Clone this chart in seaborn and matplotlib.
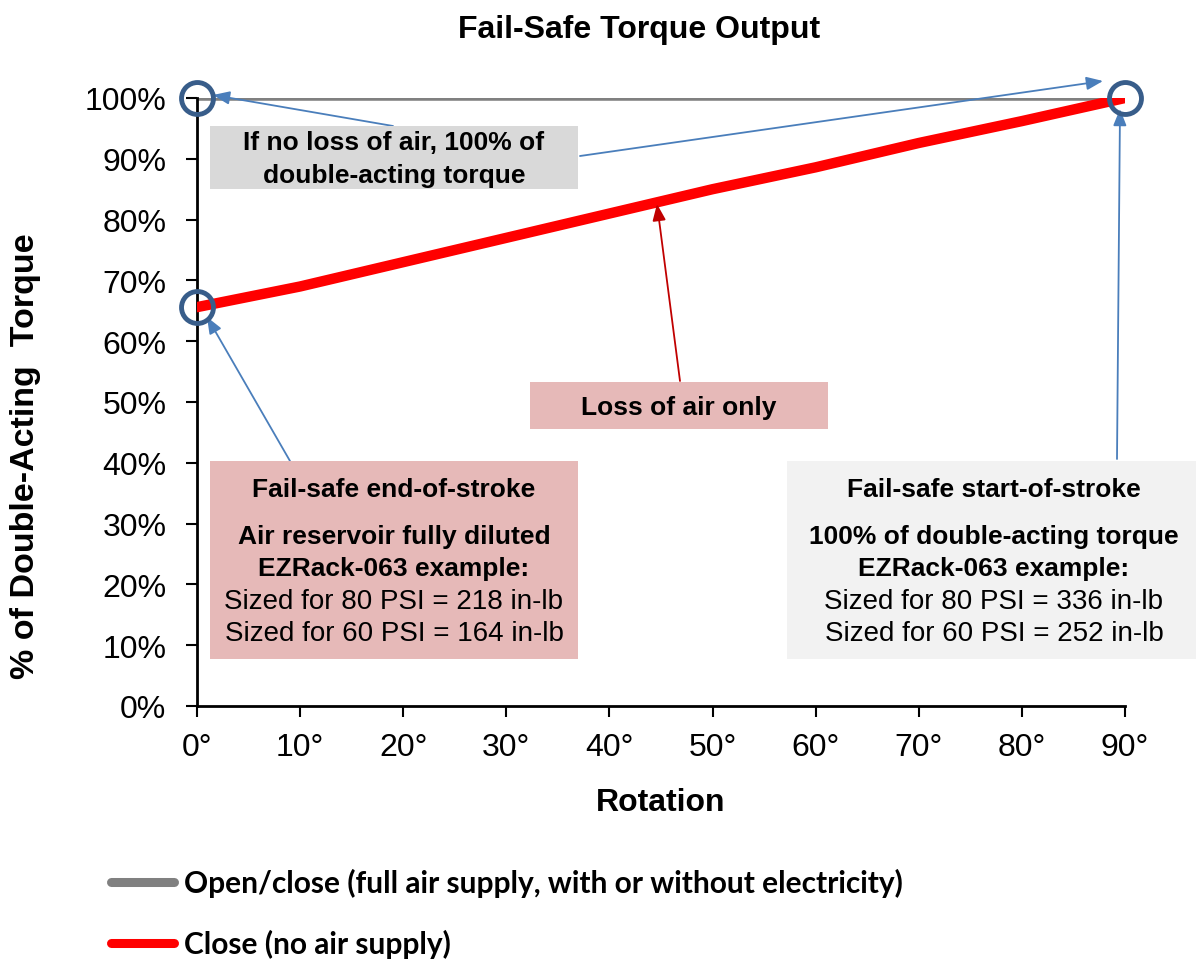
import numpy as np
import pandas as pd
import matplotlib
matplotlib.use("Agg")
import matplotlib.pyplot as plt
import seaborn as sns
from matplotlib.patches import Rectangle
from matplotlib.ticker import PercentFormatter
from matplotlib.lines import Line2D

# data
rotation = [0, 10, 20, 30, 40, 50, 60, 70, 80, 90]
open_close = [1.0, 1.0, 1.0, 1.0, 1.0, 1.0, 1.0, 1.0, 1.0, 1.0]
close_no_air = [0.656, 0.690, 0.730, 0.770, 0.810, 0.850, 0.886, 0.926, 0.962, 1.0]
x_ticks = [0, 10, 20, 30, 40, 50, 60, 70, 80, 90]
x_tick_labels = ["0°", "10°", "20°", "30°", "40°", "50°", "60°", "70°", "80°", "90°"]
y_ticks = [0, 0.1, 0.2, 0.3, 0.4, 0.5, 0.6, 0.7, 0.8, 0.9, 1.0]

label_open = "Open/close (full air supply, with or without electricity)"
label_close = "Close (no air supply)"

df = pd.DataFrame({
    "Rotation": rotation * 2,
    "Torque": open_close + close_no_air,
    "Series": [label_open] * len(rotation) + [label_close] * len(rotation),
})

sns.set_style("white")
plt.rcParams["font.family"] = ["Liberation Sans", "DejaVu Sans"]
plt.rcParams["text.color"] = "black"
plt.rcParams["axes.labelcolor"] = "black"
plt.rcParams["xtick.color"] = "black"
plt.rcParams["ytick.color"] = "black"

fig = plt.figure(figsize=(11.96, 9.7), dpi=100)
ax = fig.add_axes([197 / 1196, 1 - 707 / 970, 928 / 1196, 608 / 970])

palette = {label_open: "#808080", label_close: "#FF0000"}
sns.lineplot(data=df[df.Series == label_open], x="Rotation", y="Torque",
             color=palette[label_open], linewidth=4, ax=ax, legend=False, zorder=2)
sns.lineplot(data=df[df.Series == label_close], x="Rotation", y="Torque",
             color=palette[label_close], linewidth=7.5, ax=ax, legend=False, zorder=3)

ax.set_xlim(0, 90)
ax.set_ylim(0, 1.0)
ax.set_xticks(x_ticks)
ax.set_xticklabels(x_tick_labels)
ax.set_yticks(y_ticks)
ax.yaxis.set_major_formatter(PercentFormatter(1.0, decimals=0))
ax.tick_params(axis="both", labelsize=23, length=8, width=1.5, direction="out",
               bottom=True, left=True, color="black")
ax.tick_params(axis="y", pad=14)
ax.tick_params(axis="x", pad=11)
for s in ["top", "right"]:
    ax.spines[s].set_visible(False)
for s in ["left", "bottom"]:
    ax.spines[s].set_color("black")
    ax.spines[s].set_linewidth(2)

ax.set_xlabel("Rotation", fontsize=23, fontweight="bold", labelpad=18)
ax.set_ylabel("% of Double-Acting  Torque", fontsize=24.5, fontweight="bold")
ax.yaxis.set_label_coords(-0.168, 0.413)
fig.text(0.534, 1 - 30 / 970, "Fail-Safe Torque Output", ha="center", va="center",
         fontsize=23, fontweight="bold")

# circles at key points
circ_x = [0, 0, 90]
circ_y = [1.0, close_no_air[0], 1.0]
ax.plot(circ_x, circ_y, ls="none", marker="o", ms=23, mfc="none", mec="#385D8A",
        mew=3.5, clip_on=False, zorder=5)


def py(p):
    return (707 - p) / 608


def px(p):
    return (p - 197) / 928 * 90


def box(x0, x1, y0, y1, color):
    ax.add_patch(Rectangle((px(x0), py(y1)), px(x1) - px(x0), py(y0) - py(y1),
                           facecolor=color, edgecolor="none", clip_on=False, zorder=6))


def arrow(start, end, color):
    ax.annotate("", xy=(px(end[0]), py(end[1])), xytext=(px(start[0]), py(start[1])),
                arrowprops=dict(arrowstyle="-|>,head_length=1.0,head_width=0.4",
                                color=color, lw=1.3, shrinkA=0, shrinkB=0),
                annotation_clip=False, zorder=4)


blue = "#4A7EBB"
# top gray box
box(210, 578, 127, 190, "#D9D9D9")
ax.text(px(394), py(143), "If no loss of air, 100% of", ha="center", va="center",
        fontsize=19, fontweight="bold", zorder=7)
ax.text(px(394), py(176), "double-acting torque", ha="center", va="center",
        fontsize=19, fontweight="bold", zorder=7)
arrow((393, 127), (213, 96), blue)
arrow((580, 157), (1103, 82), blue)

# loss of air box
box(530, 828, 383, 430, "#E6B9B8")
ax.text(px(679), py(408), "Loss of air only", ha="center", va="center",
        fontsize=19, fontweight="bold", zorder=7)
arrow((680, 382), (657, 205), "#C00000")

# left box
box(210, 578, 462, 660, "#E6B9B8")
lines_left = [("Fail-safe end-of-stroke", "bold", 19, 490),
              ("Air reservoir fully diluted", "bold", 19, 537),
              ("EZRack-063 example:", "bold", 19, 569),
              ("Sized for 80 PSI = 218 in-lb", "normal", 20, 602),
              ("Sized for 60 PSI = 164 in-lb", "normal", 20, 634)]
for t, w, fs, yy in lines_left:
    ax.text(px(394), py(yy), t, ha="center", va="center", fontsize=fs,
            fontweight=w, zorder=7)
arrow((290, 462), (207, 318), blue)

# right box
box(787, 1196, 462, 660, "#F2F2F2")
lines_right = [("Fail-safe start-of-stroke", "bold", 19, 490),
               ("100% of double-acting torque", "bold", 19, 537),
               ("EZRack-063 example:", "bold", 19, 569),
               ("Sized for 80 PSI = 336 in-lb", "normal", 20, 602),
               ("Sized for 60 PSI = 252 in-lb", "normal", 20, 634)]
for t, w, fs, yy in lines_right:
    ax.text(px(994), py(yy), t, ha="center", va="center", fontsize=fs,
            fontweight=w, zorder=7)
arrow((1117, 460), (1120, 110), blue)

handles = [Line2D([], [], color=palette[label_open], lw=6.5, solid_capstyle="round"),
           Line2D([], [], color=palette[label_close], lw=6.5, solid_capstyle="round")]
fig.legend(handles, [label_open, label_close], loc="upper left",
           bbox_to_anchor=(84 / 1196, 1 - 842 / 970), frameon=False,
           prop={"family": ["Lato", "DejaVu Sans"], "weight": "bold", "size": 21.5},
           handlelength=2.1, handletextpad=0.35, labelspacing=1.08)

fig.savefig("out.png", dpi=100)
